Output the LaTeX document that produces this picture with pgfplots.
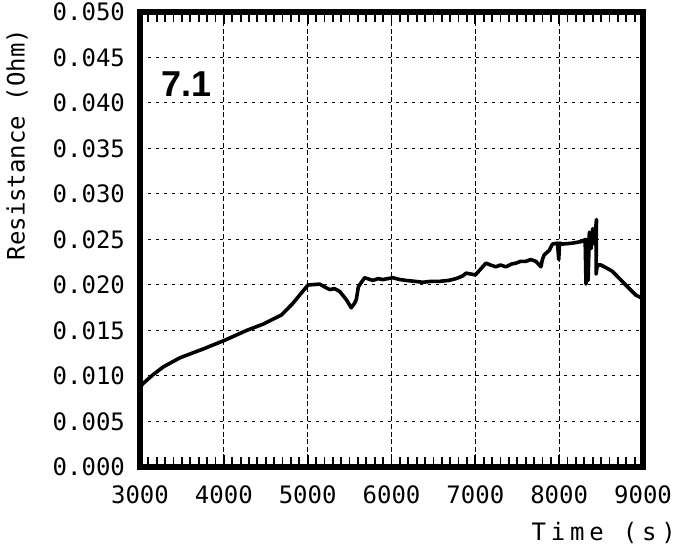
\documentclass[border=0pt]{standalone}
\usepackage{fontspec}
\setmainfont{DejaVu Sans Mono}
\newfontfamily\labelfont{Liberation Sans}
\usepackage{pgfplots}
\pgfplotsset{compat=1.18}

\pgfplotstableread{
t R
3000 0.0088
3040 0.0092
3150 0.0101
3277 0.0110
3476 0.0120
3734 0.0129
4004 0.0139
4270 0.0150
4468 0.0157
4687 0.0167
4825 0.0180
4905 0.0189
5004 0.0200
5143 0.0201
5200 0.0198
5262 0.0195
5320 0.0196
5381 0.0193
5460 0.0184
5520 0.0175
5560 0.0180
5580 0.0184
5605 0.0198
5619 0.0200
5679 0.0208
5777 0.0205
5840 0.0207
5897 0.0206
6015 0.0208
6100 0.0206
6175 0.0205
6280 0.0204
6373 0.0203
6471 0.0204
6571 0.0204
6680 0.0205
6770 0.0207
6850 0.0210
6889 0.0213
6950 0.0212
7000 0.0211
7068 0.0218
7127 0.0224
7180 0.0222
7246 0.0220
7300 0.0222
7365 0.0220
7430 0.0223
7484 0.0224
7540 0.0226
7603 0.0226
7660 0.0228
7722 0.0226
7782 0.0220
7800 0.0228
7821 0.0233
7881 0.0238
7920 0.0245
7980 0.0246
7995 0.0228
8005 0.0246
8040 0.0245
8159 0.0246
8278 0.0248
8310 0.0250
8320 0.0201
8330 0.0250
8345 0.0205
8360 0.0258
8380 0.0240
8400 0.0262
8420 0.0245
8445 0.0272
8440 0.0212
8455 0.0222
8496 0.0222
8560 0.0219
8635 0.0215
8720 0.0207
8794 0.0200
8913 0.0189
9000 0.0185
}\resdata

\begin{document}
\begin{tikzpicture}
\begin{axis}[
    name=ax,
    scale only axis,
    width=251.5pt, height=227.5pt,
    xmin=3000, xmax=9000,
    ymin=0, ymax=0.05,
    xtick={3000,4000,...,9000},
    ytick={0,0.005,...,0.0501},
    minor x tick num=9,
    xtick pos=both,
    tick align=inside,
    major tick length=6pt,
    minor tick length=5pt,
    x tick style={black, line width=0.9pt},
    minor x tick style={black, line width=0.9pt},
    ytick style={draw=none},
    axis line style={line width=3pt},
    grid=major,
    major x grid style={black, line width=0.5pt, dash pattern=on 2.5pt off 1.3pt},
    major y grid style={black, line width=0.5pt, dash pattern=on 1.5pt off 2.5pt},
    scaled y ticks=false,
    /pgf/number format/assume math mode=true,
    /pgf/number format/1000 sep={},
    yticklabel style={/pgf/number format/fixed, /pgf/number format/fixed zerofill,
        /pgf/number format/precision=3, xshift=-4pt},
    xticklabel style={yshift=-6pt},
    tick label style={font=\fontsize{12}{14}\selectfont},
    clip mode=individual,
]
\addplot[black, line width=1.8pt, line join=round] table[x=t, y=R] {\resdata};
\node[font=\labelfont\bfseries\fontsize{18}{20}\selectfont] at (axis cs:3554,0.0421) {7.1};
\end{axis}
\node[rotate=90, anchor=east, font=\fontsize{12}{14}\selectfont]
    at ([xshift=-61.5pt, yshift=-5pt]ax.north west) {Resistance (Ohm)};
\node[anchor=east, font=\fontsize{12}{14}\selectfont\addfontfeature{LetterSpace=20}]
    at ([xshift=20pt, yshift=-33pt]ax.south east) {Time (s)};
\pgfresetboundingbox
\path[use as bounding box] ([xshift=-70pt, yshift=-41pt]ax.south west)
    rectangle ([xshift=19.5pt, yshift=6pt]ax.north east);
\end{tikzpicture}
\end{document}
